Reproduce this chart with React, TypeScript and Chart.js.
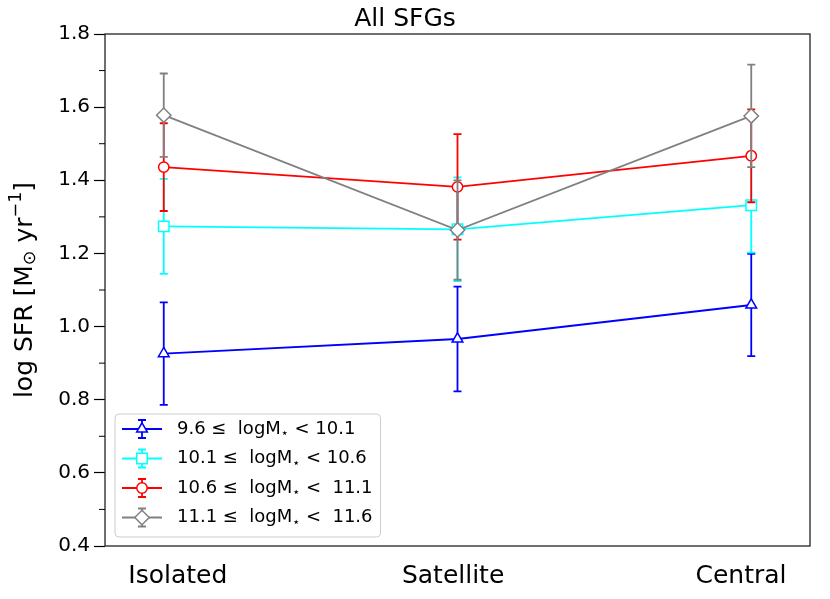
import React, { useEffect, useRef } from 'react';
import { Chart, registerables } from 'chart.js';
import { drawPoint } from 'chart.js/helpers';

Chart.register(...registerables);

const FONT = "'DejaVu Sans', sans-serif";

// categories along the x axis
const categories = ['Isolated', 'Satellite', 'Central'];
const xPositions = [0, 1, 2];
// where matplotlib put the category labels (a bit off the points)
const xLabelPositions = [0.048, 0.985, 1.965];

const yTicks = [0.4, 0.6, 0.8, 1.0, 1.2, 1.4, 1.6, 1.8];
const yMinorTicks = [0.5, 0.7, 0.9, 1.1, 1.3, 1.5, 1.7];

const seriesLabels = [
  '9.6 ≤  logM⋆ < 10.1',
  '10.1 ≤  logM⋆ < 10.6',
  '10.6 ≤  logM⋆ <  11.1',
  '11.1 ≤  logM⋆ <  11.6',
];

const bin1Sfr = [0.926, 0.966, 1.059];
const bin1Err = [0.14, 0.143, 0.14];
const bin2Sfr = [1.274, 1.266, 1.332];
const bin2Err = [0.13, 0.142, 0.13];
const bin3Sfr = [1.436, 1.382, 1.467];
const bin3Err = [0.12, 0.144, 0.127];
const bin4Sfr = [1.578, 1.264, 1.576];
const bin4Err = [0.114, 0.136, 0.14];

const seriesValues = [bin1Sfr, bin2Sfr, bin3Sfr, bin4Sfr];
const seriesErrors = [bin1Err, bin2Err, bin3Err, bin4Err];

const colors = ['#0000ff', '#00ffff', '#ff0000', '#808080'];
const pointStyles = ['triangle', 'rect', 'circle', 'rectRot'];
const pointRadii = [6.2, 7.4, 5.2, 7.2];
const LW = 1.8;

const errorBarPlugin = {
  id: 'errorBars',
  beforeDatasetDraw(chart: any, args: any) {
    const { ctx, scales } = chart;
    const i = args.index;
    const errs = seriesErrors[i];
    const ds = chart.data.datasets[i];
    ctx.save();
    ctx.strokeStyle = colors[i];
    ctx.lineWidth = LW;
    ds.data.forEach((p: any, j: number) => {
      const px = scales.x.getPixelForValue(p.x);
      const top = scales.y.getPixelForValue(p.y + errs[j]);
      const bot = scales.y.getPixelForValue(p.y - errs[j]);
      ctx.beginPath();
      ctx.moveTo(px, top);
      ctx.lineTo(px, bot);
      ctx.moveTo(px - 4, top);
      ctx.lineTo(px + 4, top);
      ctx.moveTo(px - 4, bot);
      ctx.lineTo(px + 4, bot);
      ctx.stroke();
    });
    ctx.restore();
  },
};

const frameAndLegendPlugin = {
  id: 'frameAndLegend',
  afterDraw(chart: any) {
    const { ctx, chartArea, scales } = chart;
    const { left, top, right, bottom } = chartArea;
    ctx.save();

    // frame
    ctx.strokeStyle = '#222';
    ctx.lineWidth = 1.3;
    ctx.strokeRect(left, top, right - left, bottom - top);

    // minor ticks on y
    ctx.strokeStyle = '#000';
    ctx.lineWidth = 1;
    yMinorTicks.forEach((v) => {
      const y = scales.y.getPixelForValue(v);
      ctx.beginPath();
      ctx.moveTo(left - 6, y);
      ctx.lineTo(left, y);
      ctx.stroke();
    });

    // y axis title, mathtext-like: log SFR [M_sun yr^-1]
    const ts = 25;
    const parts: [string, number, number][] = [
      ['log SFR [M', 1, 0],
      ['⊙', 0.7, 5],
      [' yr', 1, 0],
      ['−1', 0.7, -9],
      [']', 1, 0],
    ];
    let total = 0;
    parts.forEach(([t, s]) => {
      ctx.font = `${ts * s}px ${FONT}`;
      total += ctx.measureText(t).width;
    });
    ctx.save();
    ctx.translate(25, (top + bottom) / 2);
    ctx.rotate(-Math.PI / 2);
    ctx.fillStyle = '#000';
    ctx.textBaseline = 'middle';
    ctx.textAlign = 'left';
    let px = -total / 2;
    parts.forEach(([t, s, dy]) => {
      ctx.font = `${ts * s}px ${FONT}`;
      ctx.fillText(t, px, dy);
      px += ctx.measureText(t).width;
    });
    ctx.restore();

    // legend, lower left inside the axes
    const fontSize = 18;
    const rowH = 29.5;
    const textOff = 62;
    const widths = seriesLabels.map((lab) => {
      const [a, b] = lab.split('⋆');
      ctx.font = `${fontSize}px ${FONT}`;
      let w = ctx.measureText(a).width + ctx.measureText(b).width;
      ctx.font = `${fontSize * 0.7}px ${FONT}`;
      w += ctx.measureText('⋆').width;
      return w;
    });
    const boxW = textOff + Math.max(...widths) + 8;
    const boxH = rowH * seriesLabels.length + 5;
    const bx = left + 10;
    const by = bottom - 9 - boxH;
    ctx.beginPath();
    ctx.roundRect(bx, by, boxW, boxH, 4);
    ctx.fillStyle = 'rgba(255,255,255,0.8)';
    ctx.fill();
    ctx.strokeStyle = '#cccccc';
    ctx.lineWidth = 1;
    ctx.stroke();

    seriesLabels.forEach((lab, i) => {
      const cy = by + 15 + i * rowH;
      const hx0 = bx + 7;
      const hx1 = hx0 + 40;
      const hc = (hx0 + hx1) / 2;
      ctx.strokeStyle = colors[i];
      ctx.lineWidth = LW;
      ctx.beginPath();
      ctx.moveTo(hx0, cy);
      ctx.lineTo(hx1, cy);
      ctx.moveTo(hc, cy - 9);
      ctx.lineTo(hc, cy + 9);
      ctx.moveTo(hc - 4, cy - 9);
      ctx.lineTo(hc + 4, cy - 9);
      ctx.moveTo(hc - 4, cy + 9);
      ctx.lineTo(hc + 4, cy + 9);
      ctx.stroke();
      ctx.fillStyle = '#fff';
      ctx.lineWidth = 1.5;
      drawPoint(ctx, { pointStyle: pointStyles[i], radius: pointRadii[i], rotation: 0, borderWidth: 1.5 } as any, hc, cy);

      const [a, b] = lab.split('⋆');
      ctx.fillStyle = '#000';
      ctx.textBaseline = 'middle';
      ctx.textAlign = 'left';
      let tx = bx + textOff;
      ctx.font = `${fontSize}px ${FONT}`;
      ctx.fillText(a, tx, cy);
      tx += ctx.measureText(a).width;
      ctx.font = `${fontSize * 0.7}px ${FONT}`;
      ctx.fillText('⋆', tx, cy + 5);
      tx += ctx.measureText('⋆').width;
      ctx.font = `${fontSize}px ${FONT}`;
      ctx.fillText(b, tx, cy);
    });
    ctx.restore();
  },
};

const App: React.FC = () => {
  const canvasRef = useRef<HTMLCanvasElement | null>(null);
  const chartRef = useRef<Chart | null>(null);

  useEffect(() => {
    document.body.style.margin = '0';
    const ctx = canvasRef.current?.getContext('2d');
    if (!ctx) return;
    if (chartRef.current) chartRef.current.destroy();

    const datasets = seriesValues.map((vals, i) => ({
      label: seriesLabels[i],
      data: vals.map((v, j) => ({ x: xPositions[j], y: v })),
      borderColor: colors[i],
      backgroundColor: '#ffffff',
      borderWidth: LW,
      pointStyle: pointStyles[i],
      pointRadius: pointRadii[i],
      pointBorderWidth: 1.5,
      pointBorderColor: colors[i],
      pointBackgroundColor: '#ffffff',
      tension: 0,
      fill: false,
      order: seriesValues.length - i,
    }));

    chartRef.current = new Chart(ctx, {
      type: 'line',
      data: { datasets },
      options: {
        animation: false,
        responsive: true,
        maintainAspectRatio: false,
        layout: { padding: { left: 0, right: 20, top: 0, bottom: 0 } },
        plugins: {
          legend: { display: false },
          tooltip: { enabled: false },
          title: {
            display: true,
            text: 'All SFGs',
            color: '#000',
            font: { family: FONT, size: 25, weight: 'normal' },
            padding: { top: 4, bottom: 0 },
          },
        },
        scales: {
          x: {
            type: 'linear',
            min: -0.2,
            max: 2.2,
            afterBuildTicks: (s: any) => {
              s.ticks = xLabelPositions.map((v) => ({ value: v }));
            },
            afterFit: (s: any) => {
              s.height = 53;
            },
            ticks: {
              callback: (_v: any, i: number) => categories[i],
              color: '#000',
              font: { family: FONT, size: 25 },
              padding: 15,
              maxRotation: 0,
              autoSkip: false,
            },
            grid: { display: false, drawTicks: false },
            border: { display: false },
          },
          y: {
            type: 'linear',
            min: 0.4,
            max: 1.8,
            afterBuildTicks: (s: any) => {
              s.ticks = yTicks.map((v) => ({ value: v }));
            },
            afterFit: (s: any) => {
              s.width = 105;
            },
            ticks: {
              callback: (v: any) => Number(v).toFixed(1),
              color: '#000',
              font: { family: FONT, size: 20 },
              padding: 4,
            },
            grid: {
              drawOnChartArea: false,
              drawTicks: true,
              tickLength: 11,
              tickWidth: 1.2,
              tickColor: '#000',
            },
            border: { display: false },
          },
        },
      } as any,
      plugins: [errorBarPlugin, frameAndLegendPlugin],
    } as any);

    return () => {
      if (chartRef.current) {
        chartRef.current.destroy();
        chartRef.current = null;
      }
    };
  }, []);

  return (
    <div style={{ position: 'relative', width: 830, height: 599 }}>
      <canvas ref={canvasRef} />
    </div>
  );
};

export default App;
